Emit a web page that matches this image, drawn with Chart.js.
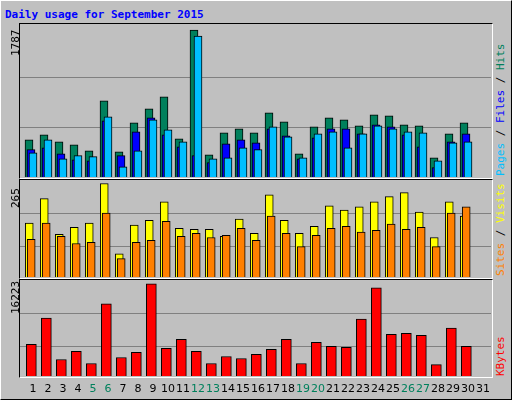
<!DOCTYPE html>
<html><head><meta charset="utf-8">
<script src="https://cdn.jsdelivr.net/npm/chart.js@4"></script>
<style>
body{margin:0;background:#fff}
#f{position:absolute;left:0;top:0;width:510px;height:398px;background:#c0c0c0;border-top:1px solid #fff;border-left:1px solid #fff;border-right:1px solid #000;border-bottom:1px solid #000}
.p{position:absolute;left:19px;width:472px;border-top:1px solid #000;border-left:1px solid #000;border-right:1px solid #fff;border-bottom:1px solid #fff}
canvas{position:absolute}
.t{position:absolute;font-family:"DejaVu Sans Mono",monospace;font-size:11px;white-space:nowrap}
.r{transform-origin:0 0;transform:rotate(-90deg)}
</style></head><body>
<div id="f"></div>
<div class="t" style="left:5px;top:8px;color:#0000ff;font-weight:bold;font-size:11px">Daily usage for September 2015</div>
<div class="p" style="top:23px;height:154px"></div>
<div class="p" style="top:179px;height:98px"></div>
<div class="p" style="top:279px;height:97px"></div>
<canvas id="c1" style="left:20px;top:24px" width="471" height="153"></canvas>
<canvas id="c2" style="left:20px;top:180px" width="471" height="97"></canvas>
<canvas id="c3" style="left:20px;top:280px" width="471" height="96"></canvas>
<div class="t r" style="left:9px;top:56px;color:#000">1787</div>
<div class="t r" style="left:9px;top:208px;color:#000">265</div>
<div class="t r" style="left:9px;top:314px;color:#000">16223</div>
<div class="t r" style="left:494px;top:176px"><span style="color:#00bfff">Pages</span><span style="color:#000"> / </span><span style="color:#0000ff">Files</span><span style="color:#000"> / </span><span style="color:#00805c">Hits</span></div>
<div class="t r" style="left:494px;top:276px"><span style="color:#ff8000">Sites</span><span style="color:#000"> / </span><span style="color:#ffff00">Visits</span></div>
<div class="t r" style="left:494px;top:376px"><span style="color:#ff0000">KBytes</span></div>
<div id="days"></div>
<script>
const days=["1","2","3","4","5","6","7","8","9","10","11","12","13","14","15","16","17","18","19","20","21","22","23","24","25","26","27","28","29","30","31"];
const weekend=[5,6,12,13,19,20,26,27];
const hits=[453,513,429,392,319,926,307,659,829,974,465,1787,271,538,586,538,780,671,283,610,720,695,623,756,744,635,623,234,526,659];
const files=[332,356,283,210,198,683,259,550,720,513,368,259,174,404,453,416,586,501,222,477,586,586,526,635,610,513,368,113,429,526];
const pages=[295,453,222,259,247,732,125,319,695,574,429,1714,222,234,356,332,610,489,234,526,550,356,526,623,586,550,538,198,416,429];
const sites=[153,222,121,141,153,265,66,147,161,213,138,135,135,115,164,124,233,161,124,144,202,190,199,213,228,239,184,112,213,173];
const visits=[107,153,115,95,98,181,52,98,104,158,115,124,112,118,138,104,173,124,86,118,138,144,127,132,150,135,141,86,181,199];
const kbytes=[5565,10183,2901,4322,2191,12670,3256,4144,16223,4855,6453,4322,2191,3434,3079,3789,4677,6453,2191,5920,5210,5032,10006,15512,7341,7519,7164,2013,8407,5210];

const dd=document.getElementById('days');
days.forEach((d,i)=>{const s=document.createElement('div');s.className='t';s.style.fontFamily='DejaVu Sans';s.style.fontSize='11px';
 s.style.left=(33+15*i)+'px';s.style.top='382px';s.style.transform='translateX(-50%)';
 s.style.color=weekend.includes(+d)?'#00805c':'#000';s.textContent=d;dd.appendChild(s);});

function ds(arr,off,color,w,order){return{data:arr.map((v,i)=>({x:i+1+off,y:v})),backgroundColor:color,borderColor:'#000',borderWidth:1,borderSkipped:'bottom',barThickness:w,grouped:false,order:order};}
function mk(id,sets,max,grid){
 new Chart(document.getElementById(id),{type:'bar',data:{datasets:sets},
 options:{responsive:false,animation:false,layout:{padding:0},plugins:{legend:{display:false},tooltip:{enabled:false}},
 scales:{x:{type:'linear',offset:false,min:0.133,max:31.533,display:false},
 y:{min:0,max:max,border:{display:false},ticks:{display:false},afterFit:s=>{s.width=0;},
 afterBuildTicks:s=>{s.ticks=grid.map(v=>({value:v}));},grid:{color:'#808080',lineWidth:1,drawTicks:false}}}}});
}
mk('c1',[ds(hits,-0.267,'#00805c',8,3),ds(files,-0.133,'#0000ff',8,2),ds(pages,0,'#00bfff',8,1)],1860,[598,1213]);
mk('c2',[ds(sites,-0.25,'#ffff00',8,2),ds(visits,-0.12,'#ff8000',8,1)],275,[86,181]);
mk('c3',[ds(kbytes,-0.11,'#ff0000',10,1)],16880,[5210,11070]);
</script>
</body></html>
